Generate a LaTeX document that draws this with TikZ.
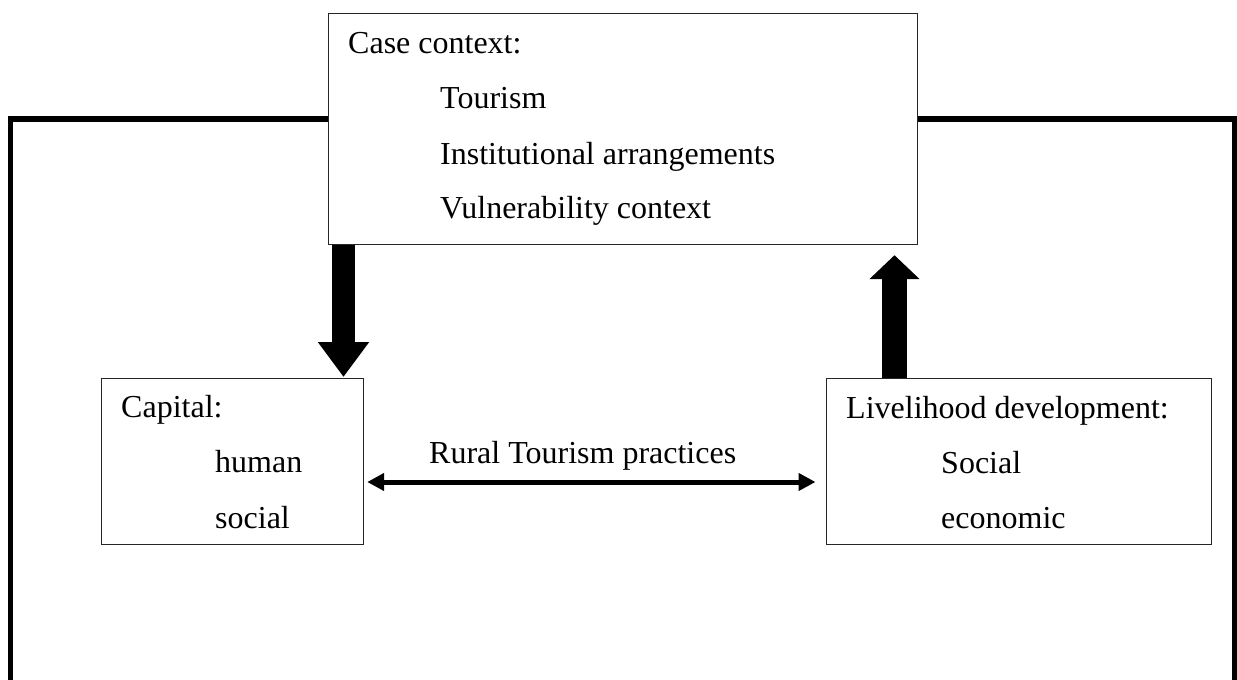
\documentclass[tikz,border=0pt]{standalone}
\usepackage{fontspec}
\setmainfont{Liberation Serif}
\usetikzlibrary{arrows.meta}
\begin{document}
\begin{tikzpicture}[x=1pt,y=1pt,
  box/.style={draw=black!85, line width=1.2pt, fill=white, rectangle, inner sep=0pt, anchor=north west},
  txt/.style={anchor=base west, inner sep=0pt, font=\fontsize{32}{38}\selectfont},
  frameline/.style={line width=5.5pt, line cap=butt},
  blockdown/.style={line width=23pt, -{Triangle[width=49pt, length=35pt]}},
  blockup/.style={line width=25pt, -{Triangle[width=49pt, length=24pt]}},
  twoway/.style={line width=5pt, {Triangle[width=17pt, length=17pt]}-{Triangle[width=17pt, length=17pt]}}
]
\useasboundingbox (0,0) rectangle (1237,-680);
\clip (0,0) rectangle (1237,-680);
% outer frame
\coordinate (fbl) at (10.5,-690);
\coordinate (ftl) at (10.5,-119);
\coordinate (ftr) at (1234.5,-119);
\coordinate (fbr) at (1234.5,-690);
\draw[frameline] (fbl) -- (ftl) -- (ftr) -- (fbr);
% boxes
\node[box, minimum width=589pt, minimum height=231pt] (top) at (328,-13) {};
\node[box, minimum width=262pt, minimum height=166pt] (cap) at (101,-378) {};
\node[box, minimum width=385.5pt, minimum height=166pt] (liv) at (825.5,-378) {};
% texts
\node[txt] (t1) at (348,-53) {Case context:};
\node[txt] (t2) at (440,-108) {Tourism};
\node[txt] (t3) at (440,-164) {Institutional arrangements};
\node[txt] (t4) at (440,-218) {Vulnerability context};
\node[txt] (c1) at (121,-417) {Capital:};
\node[txt] (c2) at (215,-472) {human};
\node[txt] (c3) at (215,-528) {social};
\node[txt] (l1) at (846,-418) {Livelihood development:};
\node[txt] (l2) at (941,-473) {Social};
\node[txt] (l3) at (941,-528) {economic};
\node[txt] (rt) at (429,-463) {Rural Tourism practices};
% connectors
\coordinate (dx) at (343.5,0);
\coordinate (ux) at (894.5,0);
\coordinate (ay) at (0,-482);
\draw[blockdown] (top.south -| dx) -- ([yshift=1pt]cap.north -| dx);
\draw[blockup] (liv.north -| ux) -- ([yshift=-10pt]top.south -| ux);
\draw[twoway] ([xshift=3pt]cap.east |- ay) -- ([xshift=-10pt]liv.west |- ay);
\end{tikzpicture}
\end{document}
